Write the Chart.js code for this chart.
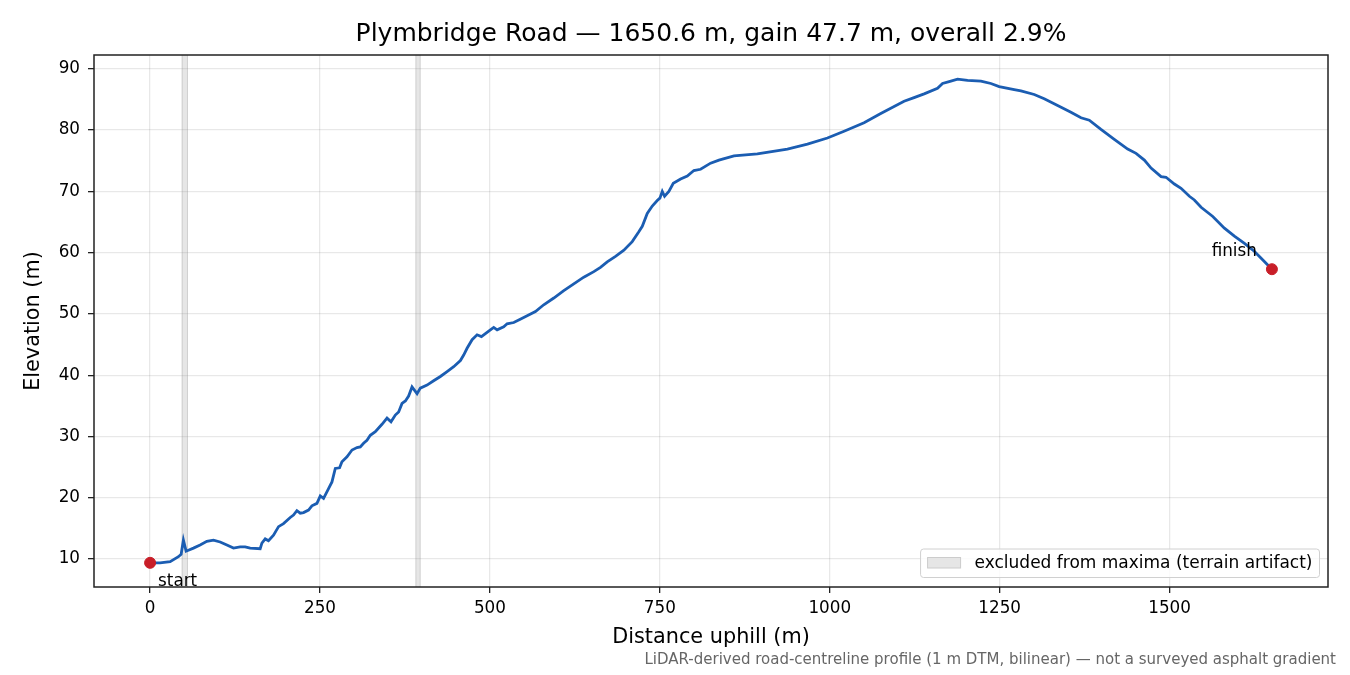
<!DOCTYPE html>
<html>
<head>
<meta charset="utf-8">
<script src="https://cdn.jsdelivr.net/npm/chart.js@4.4.1/dist/chart.umd.min.js"></script>
<style>
  html, body { margin: 0; padding: 0; background: #fff; }
  #wrap { width: 1350px; height: 675px; position: relative; }
  canvas { display: block; }
</style>
</head>
<body>
<div id="wrap"><canvas id="c" width="1350" height="675"></canvas></div>
<script>
// ---- data ----
const distance = [0, 14.7, 29.5, 41.7, 45.7, 49.0, 53.0, 63.8, 73.6, 83.5, 93.2, 103.1, 113.0, 122.7, 132.5, 139.9, 147.3, 162.0, 164.5, 169.4, 174.2, 181.6, 189.0, 196.3, 206.2, 211.0, 216.0, 220.9, 225.8, 233.1, 238.1, 245.5, 250.4, 255.2, 262.6, 267.6, 272.5, 278.8, 282.3, 289.7, 297.1, 304.4, 309.3, 314.1, 319.1, 324.0, 331.4, 341.2, 348.6, 354.5, 360.8, 365.7, 370.7, 375.6, 380.4, 385.4, 392.8, 397.6, 407.5, 417.2, 427.1, 437.0, 446.7, 456.6, 461.4, 466.4, 473.8, 481.1, 487.5, 493.4, 500.7, 505.6, 510.6, 520.3, 525.3, 535.1, 543.9, 554.8, 567.0, 579.2, 594.0, 608.7, 623.4, 638.1, 652.9, 662.7, 672.6, 684.8, 697.1, 709.4, 719.1, 724.2, 731.5, 738.9, 746.2, 750.1, 753.6, 757.0, 763.3, 769.8, 780.6, 790.4, 800.1, 810.0, 824.7, 837.0, 859.1, 893.5, 937.7, 967.2, 996.6, 1021.1, 1050.5, 1075.1, 1109.4, 1124.1, 1138.9, 1158.6, 1166.0, 1175.7, 1188.1, 1202.8, 1222.4, 1237.1, 1249.3, 1271.4, 1281.3, 1300.9, 1315.6, 1335.3, 1354.9, 1369.7, 1381.9, 1399.1, 1418.7, 1438.4, 1450.7, 1462.9, 1472.8, 1487.5, 1494.8, 1507.1, 1516.9, 1529.2, 1536.5, 1546.4, 1563.6, 1580.7, 1595.4, 1610.2, 1625.0, 1637.3, 1650.6];
const elevation = [9.4, 9.4, 9.6, 10.4, 10.8, 13.1, 11.3, 11.8, 12.3, 12.9, 13.1, 12.8, 12.3, 11.8, 12.0, 12.0, 11.8, 11.7, 12.6, 13.3, 13.0, 13.9, 15.3, 15.8, 16.8, 17.2, 17.9, 17.5, 17.6, 18.0, 18.7, 19.1, 20.3, 19.9, 21.5, 22.6, 24.8, 24.9, 25.9, 26.7, 27.8, 28.2, 28.3, 28.9, 29.4, 30.2, 30.8, 32.0, 33.0, 32.4, 33.5, 34.0, 35.4, 35.8, 36.6, 38.1, 37.0, 37.9, 38.4, 39.1, 39.8, 40.6, 41.4, 42.4, 43.3, 44.4, 45.8, 46.6, 46.3, 46.8, 47.4, 47.8, 47.4, 47.9, 48.4, 48.6, 49.1, 49.7, 50.4, 51.5, 52.6, 53.8, 54.9, 56.0, 56.9, 57.6, 58.5, 59.4, 60.4, 61.8, 63.4, 64.3, 66.4, 67.6, 68.5, 68.9, 70.0, 69.2, 70.0, 71.3, 72.0, 72.5, 73.4, 73.6, 74.6, 75.1, 75.8, 76.1, 76.9, 77.7, 78.7, 79.8, 81.2, 82.7, 84.7, 85.3, 85.9, 86.8, 87.6, 87.9, 88.3, 88.1, 88.0, 87.6, 87.1, 86.6, 86.4, 85.8, 85.1, 84.0, 82.9, 82.0, 81.6, 80.1, 78.5, 76.9, 76.2, 75.1, 73.8, 72.4, 72.3, 71.2, 70.5, 69.2, 68.6, 67.4, 65.9, 64.0, 62.7, 61.5, 60.2, 58.8, 57.3];
const endpointLabels = ['start', 'finish'];
const excludedBands = [[47, 55], [391, 397.5]];
const xTicks = [0, 250, 500, 750, 1000, 1250, 1500];
const yTicks = [10, 20, 30, 40, 50, 60, 70, 80, 90];
const titleText = 'Plymbridge Road \u2014 1650.6 m, gain 47.7 m, overall 2.9%';
const xLabel = 'Distance uphill (m)';
const yLabel = 'Elevation (m)';
const legendText = 'excluded from maxima (terrain artifact)';
const footerText = 'LiDAR-derived road-centreline profile (1 m DTM, bilinear) \u2014 not a surveyed asphalt gradient';

// ---- derived ----
const profile = distance.map((d, i) => ({x: d, y: elevation[i]}));
const last = distance.length - 1;
const endpoints = [{x: distance[0], y: elevation[0]}, {x: distance[last], y: elevation[last]}];
const xSpan = distance[last] - distance[0];
const eMin = Math.min(...elevation), eMax = Math.max(...elevation);
const ySpan = eMax - eMin;

const FONT = '"DejaVu Sans", sans-serif';

const decor = {
  id: 'decor',
  beforeDatasetsDraw(chart) {
    const {ctx, chartArea: a, scales: {x}} = chart;
    ctx.save();
    excludedBands.forEach(([b0, b1]) => {
      const p0 = x.getPixelForValue(b0), p1 = x.getPixelForValue(b1);
      ctx.fillStyle = 'rgba(128,128,128,0.2)';
      ctx.fillRect(p0, a.top, p1 - p0, a.bottom - a.top);
      ctx.strokeStyle = 'rgba(128,128,128,0.3)';
      ctx.lineWidth = 1;
      ctx.beginPath();
      ctx.moveTo(p0, a.top); ctx.lineTo(p0, a.bottom);
      ctx.moveTo(p1, a.top); ctx.lineTo(p1, a.bottom);
      ctx.stroke();
    });
    ctx.restore();
  },
  afterDraw(chart) {
    const {ctx, chartArea: a, scales: {x, y}} = chart;
    ctx.save();
    // frame
    ctx.strokeStyle = '#222';
    ctx.lineWidth = 1.5;
    ctx.strokeRect(a.left, a.top, a.right - a.left, a.bottom - a.top);
    // title
    ctx.fillStyle = '#000';
    ctx.font = '25px ' + FONT;
    ctx.textAlign = 'center';
    ctx.textBaseline = 'middle';
    ctx.fillText(titleText, (a.left + a.right) / 2, 34);
    // endpoint labels
    ctx.font = '16.8px ' + FONT;
    const sx = x.getPixelForValue(endpoints[0].x), sy = y.getPixelForValue(endpoints[0].y);
    ctx.textAlign = 'left';
    ctx.fillText(endpointLabels[0], sx + 8, sy + 19);
    const fx = x.getPixelForValue(endpoints[1].x), fy = y.getPixelForValue(endpoints[1].y);
    ctx.textAlign = 'right';
    ctx.fillText(endpointLabels[1], fx - 15, fy - 18);
    // legend
    ctx.font = '17px ' + FONT;
    const tw = ctx.measureText(legendText).width;
    const boxW = 7 + 33 + 14 + tw + 7;
    const boxH = 28.5;
    const bx = a.right - 8.5 - boxW, by = a.bottom - 9.5 - boxH;
    ctx.beginPath();
    ctx.roundRect(bx, by, boxW, boxH, 3);
    ctx.fillStyle = 'rgba(255,255,255,0.8)';
    ctx.fill();
    ctx.strokeStyle = '#d0d0d0';
    ctx.lineWidth = 1;
    ctx.stroke();
    ctx.fillStyle = '#e6e6e6';
    ctx.fillRect(bx + 7, by + 8.5, 33, 10.5);
    ctx.strokeStyle = '#cccccc';
    ctx.strokeRect(bx + 7, by + 8.5, 33, 10.5);
    ctx.fillStyle = '#000';
    ctx.textAlign = 'left';
    ctx.textBaseline = 'middle';
    ctx.fillText(legendText, bx + 54, by + boxH / 2);
    // footer
    ctx.font = '15px ' + FONT;
    ctx.fillStyle = '#666';
    ctx.textAlign = 'right';
    ctx.fillText(footerText, 1336, 660);
    ctx.restore();
  }
};

new Chart(document.getElementById('c'), {
  data: {
    datasets: [
      {
        type: 'scatter',
        data: endpoints,
        backgroundColor: '#c81e28',
        borderColor: '#c81e28',
        pointRadius: 5.5,
        pointHoverRadius: 5.5,
        order: 0
      },
      {
        type: 'line',
        data: profile,
        borderColor: '#1b5db2',
        borderWidth: 2.8,
        pointRadius: 0,
        tension: 0,
        fill: false,
        order: 1
      }
    ]
  },
  options: {
    responsive: false,
    animation: false,
    devicePixelRatio: 1,
    events: [],
    layout: {padding: {top: 55, right: 22, left: 0, bottom: 0}},
    plugins: {legend: {display: false}, tooltip: {enabled: false}, title: {display: false}},
    scales: {
      x: {
        type: 'linear',
        position: 'bottom',
        min: distance[0] - 0.05 * xSpan,
        max: distance[last] + 0.05 * xSpan,
        afterFit(s) { s.height = 88; },
        afterBuildTicks(s) { s.ticks = xTicks.map(v => ({value: v})); },
        ticks: {font: {family: FONT, size: 16.8}, color: '#000', padding: 6, maxRotation: 0, autoSkip: false, callback: v => String(v)},
        grid: {color: 'rgba(0,0,0,0.09)', lineWidth: 1.3, tickColor: '#222', tickLength: 6, tickWidth: 1.3},
        border: {display: false},
        title: {display: true, text: xLabel, font: {family: FONT, size: 20.8, lineHeight: 1.2}, color: '#000', padding: {top: 0, bottom: 24.5}}
      },
      y: {
        type: 'linear',
        position: 'left',
        min: eMin - 0.05 * ySpan,
        max: eMax + 0.05 * ySpan,
        afterFit(s) { s.width = 94; },
        afterBuildTicks(s) { s.ticks = yTicks.map(v => ({value: v})); },
        ticks: {font: {family: FONT, size: 16.8}, color: '#000', padding: 8, autoSkip: false, callback: v => String(v)},
        grid: {color: 'rgba(0,0,0,0.09)', lineWidth: 1.3, tickColor: '#222', tickLength: 6, tickWidth: 1.3},
        border: {display: false},
        title: {display: true, text: yLabel, font: {family: FONT, size: 20.8, lineHeight: 1.2}, color: '#000', padding: {top: 21.5, bottom: 0}}
      }
    }
  },
  plugins: [decor]
});
</script>
</body>
</html>
